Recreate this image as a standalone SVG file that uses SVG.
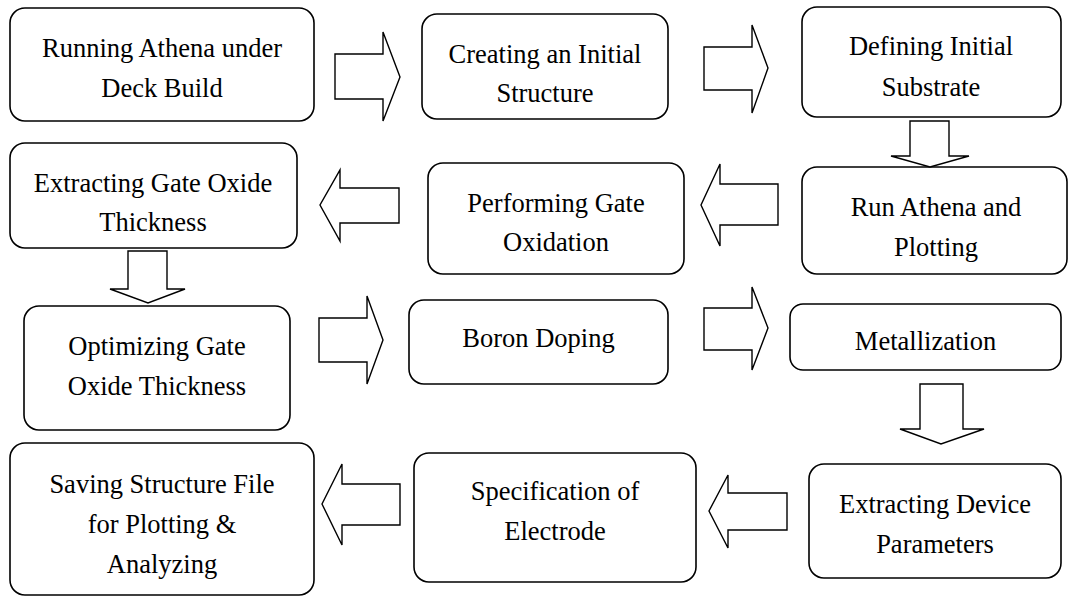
<svg xmlns="http://www.w3.org/2000/svg" width="1069" height="597" viewBox="0 0 1069 597">
<style>
.box{fill:#fff;stroke:#000;stroke-width:1.6}
.arr{fill:#fff;stroke:#000;stroke-width:1.4;stroke-linejoin:miter}
text{font-family:"Liberation Serif","Times New Roman",serif;font-size:26.5px;fill:#000;text-anchor:middle}
</style>
<rect width="1069" height="597" fill="#fff"/>
<g id="n1"><rect class="box" x="10" y="8" width="304" height="113" rx="15"/><text x="162" y="57">Running Athena under</text><text x="162" y="97">Deck Build</text></g>
<g id="n2"><rect class="box" x="422" y="14" width="246" height="105" rx="15"/><text x="545" y="63">Creating an Initial</text><text x="545" y="102">Structure</text></g>
<g id="n3"><rect class="box" x="802" y="7" width="259" height="110" rx="15"/><text x="931" y="55">Defining Initial</text><text x="931" y="96">Substrate</text></g>
<g id="n4"><rect class="box" x="802" y="167" width="265" height="107" rx="15"/><text x="936" y="216">Run Athena and</text><text x="936" y="256">Plotting</text></g>
<g id="n5"><rect class="box" x="428" y="163" width="256" height="111" rx="15"/><text x="556" y="212">Performing Gate</text><text x="556" y="251">Oxidation</text></g>
<g id="n6"><rect class="box" x="10" y="143" width="287" height="105" rx="15"/><text x="153" y="192">Extracting Gate Oxide</text><text x="153" y="231">Thickness</text></g>
<g id="n7"><rect class="box" x="24" y="306" width="266" height="124" rx="15"/><text x="157" y="355">Optimizing Gate</text><text x="157" y="395">Oxide Thickness</text></g>
<g id="n8"><rect class="box" x="409" y="300" width="259" height="84" rx="15"/><text x="538.5" y="347">Boron Doping</text></g>
<g id="n9"><rect class="box" x="790" y="304" width="271" height="66" rx="13"/><text x="925.5" y="350">Metallization</text></g>
<g id="n10"><rect class="box" x="809" y="464" width="252" height="114" rx="15"/><text x="935" y="513">Extracting Device</text><text x="935" y="553">Parameters</text></g>
<g id="n11"><rect class="box" x="414" y="453" width="282" height="129" rx="15"/><text x="555" y="500">Specification of</text><text x="555" y="540">Electrode</text></g>
<g id="n12"><rect class="box" x="10" y="443" width="304" height="152" rx="15"/><text x="162" y="493">Saving Structure File</text><text x="162" y="533">for Plotting &amp;</text><text x="162" y="573">Analyzing</text></g>
<g id="connectors">
<polygon class="arr" points="335,54 383,54 383,32 400,77 383,121 383,99 335,99"/>
<polygon class="arr" points="704,47 752,47 752,25 768,68 752,113 752,90 704,90"/>
<polygon class="arr" points="910,121 949,121 949,156 969,156 930,167 891,156 910,156"/>
<polygon class="arr" points="778,184 720,184 720,164 701,205 720,246 720,225 778,225"/>
<polygon class="arr" points="399,188 340,188 340,170 320,205 340,241 340,223 399,223"/>
<polygon class="arr" points="128,251 167,251 167,289 185,289 148,303 110,289 128,289"/>
<polygon class="arr" points="319,318 367,318 367,296 383,340 367,384 367,362 319,362"/>
<polygon class="arr" points="704,308 752,308 752,287 768,328 752,370 752,350 704,350"/>
<polygon class="arr" points="920,384 963,384 963,429 984,429 941,444 900,429 920,429"/>
<polygon class="arr" points="787,493 728,493 728,475 709,511 728,548 728,530 787,530"/>
<polygon class="arr" points="400,484 342,484 342,464 322,504 342,545 342,525 400,525"/>
</g>
</svg>
